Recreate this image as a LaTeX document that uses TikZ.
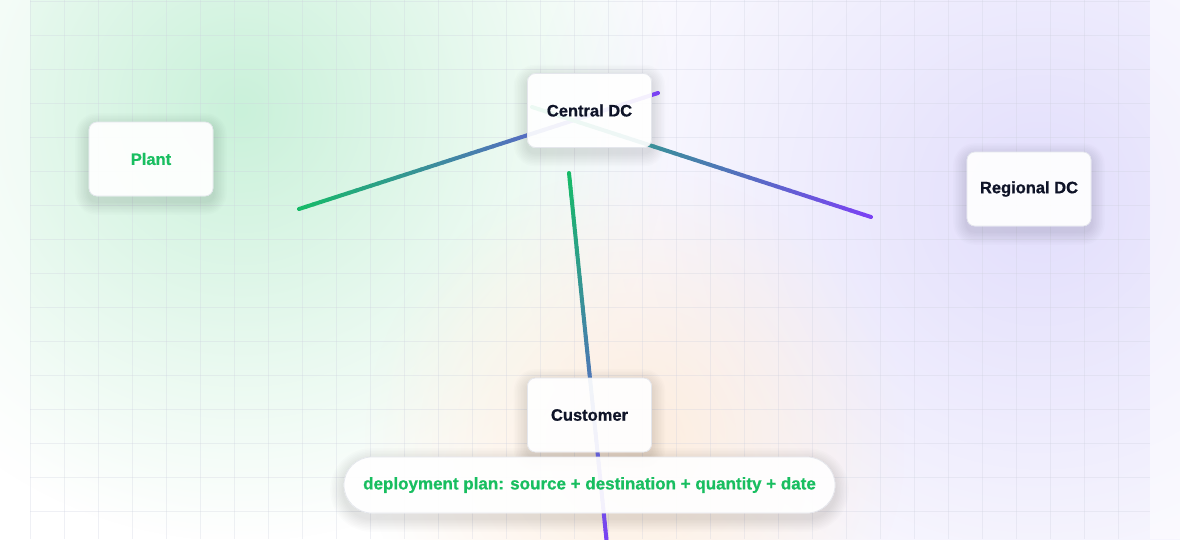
\documentclass[tikz,border=0pt]{standalone}
\usepackage{fontspec}
\setmainfont{Liberation Sans}[BoldFeatures={FakeBold=0.8}]
\usetikzlibrary{calc,fadings}
\definecolor{lgreen}{RGB}{22,186,104}
\definecolor{lpurple}{RGB}{124,64,246}
\definecolor{tgreen}{RGB}{24,190,96}
\definecolor{ink}{RGB}{15,20,40}
\definecolor{gridc}{RGB}{205,208,222}
\definecolor{glowg}{RGB}{202,241,218}
\definecolor{glowp}{RGB}{226,222,252}
\definecolor{glowo}{RGB}{253,237,222}
\definecolor{edgec}{RGB}{228,230,236}
\tikzfading[name=glowfade, inner color=transparent!0, outer color=transparent!100]
\pgfdeclarelayer{back}
\pgfdeclarelayer{shad}
\pgfdeclarelayer{lines}
\pgfsetlayers{back,shad,lines,main}
\tikzset{
  gridline/.style={draw=gridc, line width=0.6pt, opacity=0.3},
  box/.style={draw=edgec, line width=0.7pt, fill=white, fill opacity=0.92, text opacity=1,
    rounded corners=8pt, minimum width=124pt, minimum height=74pt, inner sep=0pt,
    font=\fontsize{16.5}{20}\selectfont\bfseries, text=ink},
  pill/.style={box, rounded corners=28pt, minimum width=491pt, minimum height=56pt,
    font=\fontsize{17}{20}\selectfont\bfseries, text=tgreen},
  gseg/.style={line width=4pt, line cap=round},
  shadlayer/.style={fill=black, opacity=0.011, even odd rule}
}
\newcommand\gradline[2]{%
  \foreach \i in {0,...,49}{%
    \pgfmathtruncatemacro\pc{100-2*\i}%
    \draw[gseg, color=lgreen!\pc!lpurple] ($(#1)!{\i/50}!(#2)$) -- ($(#1)!{(\i+1)/50}!(#2)$);
  }%
}
\newcommand\softshadow[2]{% node name, corner radius
  \foreach \j in {1,...,9}{%
    \fill[shadlayer] [rounded corners=#2+1.5*\j] ($(#1.south west)+(-1.5*\j,5+1.5*\j)$) rectangle ($(#1.north east)+(1.5*\j,5-1.5*\j)$)
      [rounded corners=#2] (#1.south west) rectangle (#1.north east);
  }%
}
\newcommand\glow[4]{% colour, x, y, radius
  \fill[#1, path fading=glowfade] (#2-#4,#3-#4) rectangle (#2+#4,#3+#4);
}
\begin{document}
\begin{tikzpicture}[x=1pt,y=-1pt]
\useasboundingbox (0,0) rectangle (1180,539);
\begin{pgfonlayer}{back}
\fill[white] (0,0) rectangle (1180,539);
% glows
\glow{glowg}{240}{110}{430}
\glow{glowp}{1040}{200}{520}
\glow{glowo}{635}{440}{270}
% outer strips
\fill[white, opacity=0.5] (0,0) rectangle (30,539);
\fill[white, opacity=0.5] (1150,0) rectangle (1180,539);
% grid
\foreach \k in {0,...,32} \draw[gridline] (30+34*\k,0) -- (30+34*\k,539);
\foreach \k in {0,...,15} \draw[gridline] (30,1+34*\k) -- (1150,1+34*\k);
\end{pgfonlayer}
% nodes
\node[box, text=tgreen] (plant) at (151,159) {Plant};
\node[box] (central) at (589.5,110.5) {Central DC};
\node[box] (regional) at (1029,189) {Regional DC};
\node[box] (customer) at (589.5,415) {Customer};
\node[pill] (plan) at (589.5,485) {deployment plan: source + destination + quantity + date};
\begin{pgfonlayer}{shad}
\softshadow{plant}{8}
\softshadow{central}{8}
\softshadow{regional}{8}
\softshadow{customer}{8}
\softshadow{plan}{28}
\end{pgfonlayer}
% connectors
\begin{pgfonlayer}{lines}
\coordinate (a1) at (299,209);
\coordinate (a2) at (658,93);
\coordinate (b1) at (532,107);
\coordinate (b2) at (871,217);
\coordinate (c1) at (569,173);
\coordinate (c2) at (607,545);
\gradline{a1}{a2}
\gradline{b1}{b2}
\gradline{c1}{c2}
\end{pgfonlayer}
\end{tikzpicture}
\end{document}
